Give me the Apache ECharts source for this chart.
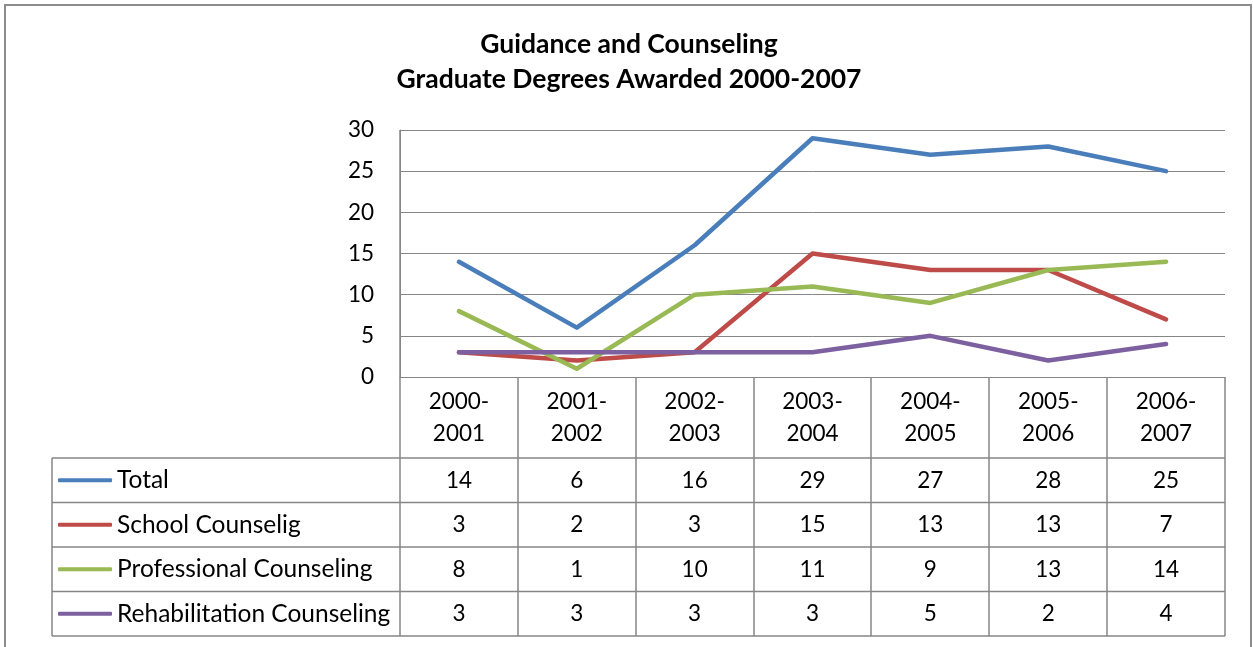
<!DOCTYPE html>
<html>
<head>
<meta charset="utf-8">
<script src="https://cdn.jsdelivr.net/npm/echarts@6/dist/echarts.min.js"></script>
<style>
  html, body { margin: 0; padding: 0; background: #fff; }
  #chart { width: 1253px; height: 647px; }
</style>
</head>
<body>
<div id="chart"></div>
<script>
// Academic years shown along the category axis
const categories = ['2000-\n2001', '2001-\n2002', '2002-\n2003', '2003-\n2004', '2004-\n2005', '2005-\n2006', '2006-\n2007'];

// Graduate degrees awarded per year
const seriesNames = ['Total', 'School Counselig', 'Professional Counseling', 'Rehabilitation Counseling'];
const total          = [14, 6, 16, 29, 27, 28, 25];
const school         = [3, 2, 3, 15, 13, 13, 7];
const professional   = [8, 1, 10, 11, 9, 13, 14];
const rehabilitation = [3, 3, 3, 3, 5, 2, 4];
const seriesValues = [total, school, professional, rehabilitation];

const yTicks = { min: 0, max: 30, interval: 5 };

const colors = ['#4A7EBB', '#BE4B48', '#98B954', '#7D60A0'];
const FONT = 'Lato';
const NUM_SIZE = 22.5;
const TEXT_SIZE = 24.5;
const GRID_COLOR = '#868686';

// Layout of the plot area and the data table beneath it
const W = 1253, H = 647;
const plot = { left: 400, top: 130, right: 1225, bottom: 377 };
const tableLeft = 52;
const headerBottom = 458;
const rowH = 44.5;

const chart = echarts.init(document.getElementById('chart'), null, { renderer: 'canvas' });

const rowCenter = i => headerBottom + rowH * (i + 0.5);

// One hidden-line category axis per table row prints that row's values
const valueAxes = seriesValues.map((vals, i) => ({
  type: 'category',
  gridIndex: 0,
  position: 'bottom',
  data: vals.map(String),
  boundaryGap: true,
  axisLine: { show: false, onZero: false },
  axisTick: { show: false },
  splitLine: { show: false },
  axisLabel: {
    interval: 0,
    margin: rowCenter(i) - 13 - plot.bottom,
    fontFamily: FONT, fontSize: NUM_SIZE, lineHeight: 26, color: '#000'
  }
}));

const legends = seriesNames.map((name, i) => ({
  data: [name],
  orient: 'vertical',
  left: 58,
  top: rowCenter(i) - 14,
  padding: 0,
  selectedMode: false,
  icon: 'roundRect',
  itemWidth: 54,
  itemHeight: 4,
  textStyle: { fontFamily: FONT, fontSize: TEXT_SIZE, lineHeight: 28, color: '#000', padding: [0, 0, 0, 0] }
}));

const option = {
  animation: false,
  backgroundColor: '#fff',
  color: colors,
  title: {
    text: 'Guidance and Counseling\nGraduate Degrees Awarded 2000-2007',
    left: 629,
    top: 27,
    padding: 0,
    textAlign: 'center',
    textStyle: { fontFamily: FONT, fontSize: 26.5, fontWeight: 'bold', lineHeight: 35, color: '#000' }
  },
  legend: legends,
  grid: {
    left: plot.left, top: plot.top,
    right: W - plot.right, bottom: H - plot.bottom,
    containLabel: false
  },
  xAxis: [{
    type: 'category',
    gridIndex: 0,
    position: 'bottom',
    data: categories,
    boundaryGap: true,
    axisLine: { show: true, onZero: false, lineStyle: { color: GRID_COLOR, width: 1 } },
    axisTick: { show: false },
    axisLabel: {
      interval: 0,
      margin: 8.5,
      fontFamily: FONT, fontSize: NUM_SIZE, lineHeight: 32, color: '#000'
    }
  }].concat(valueAxes),
  yAxis: {
    type: 'value',
    min: yTicks.min, max: yTicks.max, interval: yTicks.interval,
    axisLine: { show: true, lineStyle: { color: GRID_COLOR, width: 1 } },
    axisTick: { show: false },
    splitLine: { lineStyle: { color: GRID_COLOR, width: 1 } },
    axisLabel: { margin: 26, fontFamily: FONT, fontSize: NUM_SIZE, color: '#000' }
  },
  series: seriesNames.map((name, i) => ({
    name,
    type: 'line',
    xAxisIndex: 0,
    data: seriesValues[i],
    symbol: 'none',
    lineStyle: { width: 4.5, color: colors[i], cap: 'round', join: 'round' },
    itemStyle: { color: colors[i] }
  }))
};

chart.setOption(option);

// Data-table rules and the outer chart frame
function tableGraphics() {
  const els = [];
  const line = (x1, y1, x2, y2) => els.push({
    type: 'line', silent: true,
    shape: { x1, y1, x2, y2 },
    style: { stroke: GRID_COLOR, lineWidth: 1.5 }
  });
  const n = categories.length;
  const colW = (plot.right - plot.left) / n;
  const tableBottom = headerBottom + rowH * seriesNames.length;
  // vertical rules between categories
  line(plot.left, plot.top, plot.left, tableBottom);
  for (let k = 1; k <= n; k++) {
    const x = Math.round(plot.left + colW * k);
    line(x, plot.bottom, x, tableBottom);
  }
  // horizontal rules of the rows
  for (let r = 0; r <= seriesNames.length; r++) {
    const y = headerBottom + rowH * r;
    line(tableLeft, y, plot.right, y);
  }
  line(tableLeft, headerBottom, tableLeft, tableBottom);
  // outer frame
  els.push({
    type: 'rect', silent: true,
    shape: { x: 5, y: 5, width: 1246, height: 700 },
    style: { fill: 'none', stroke: '#8C8C8C', lineWidth: 2 }
  });
  return els;
}

chart.setOption({ graphic: { elements: tableGraphics() } });
</script>
</body>
</html>
